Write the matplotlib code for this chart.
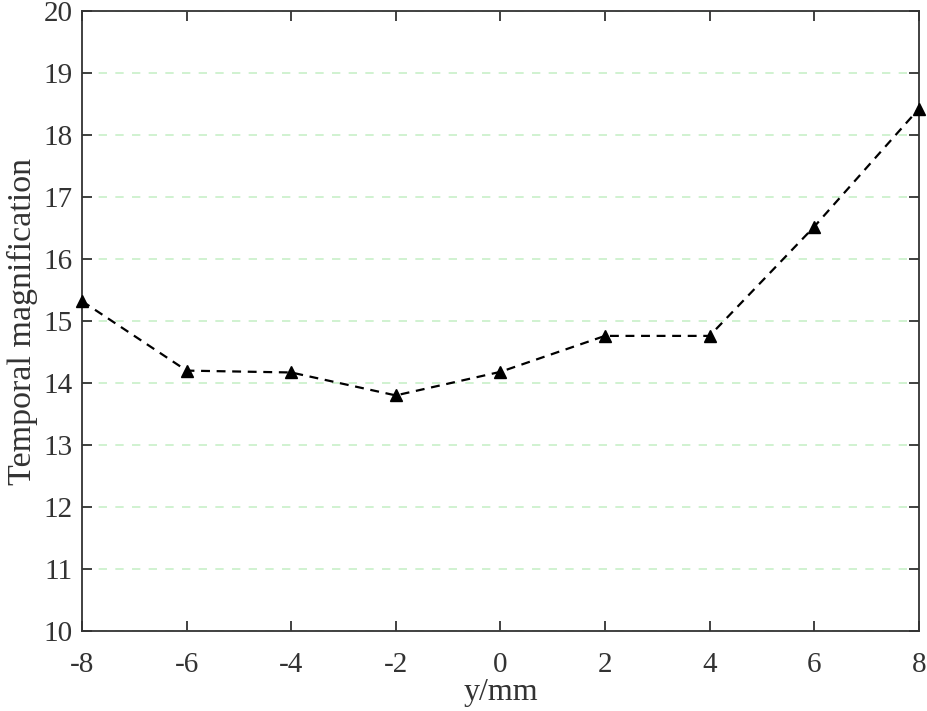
import numpy as np
import matplotlib.pyplot as plt

plt.rcParams['font.family'] = ['Liberation Serif', 'DejaVu Serif']
plt.rcParams['axes.unicode_minus'] = False

y_pos = [-8, -6, -4, -2, 0, 2, 4, 6, 8]
magnification = [15.32, 14.2, 14.17, 13.8, 14.18, 14.76, 14.76, 16.52, 18.42]

fig = plt.figure(figsize=(9.28, 7.11), dpi=100)
ax = fig.add_axes([0.0884, 0.1125, 0.9016, 0.872])

ax.plot(y_pos, magnification, '--', color='black', lw=1.6, dashes=(4, 3),
        marker='^', markersize=8, markerfacecolor='black', clip_on=False, zorder=3)

ax.set_xlim(-8, 8)
ax.set_ylim(10, 20)
ax.set_xticks(np.arange(-8, 9, 2))
ax.set_yticks(np.arange(10, 21, 1))
ax.yaxis.grid(True, linestyle=(0, (5, 5)), color='#c8f0c8', lw=1.2)
ax.set_axisbelow(True)

for s in ax.spines.values():
    s.set_color('#333333')
    s.set_linewidth(1.3)
ax.tick_params(direction='in', top=True, right=True, length=7, width=1.3,
               colors='#333333', labelsize=21, pad=7)
ax.tick_params(axis='x', pad=15)

ax.set_xlabel('y/mm', fontsize=23, color='#333333', labelpad=0)
ax.set_ylabel('Temporal magnification', fontsize=24.5, color='#333333', labelpad=4)

fig.savefig('out.png', dpi=100)
